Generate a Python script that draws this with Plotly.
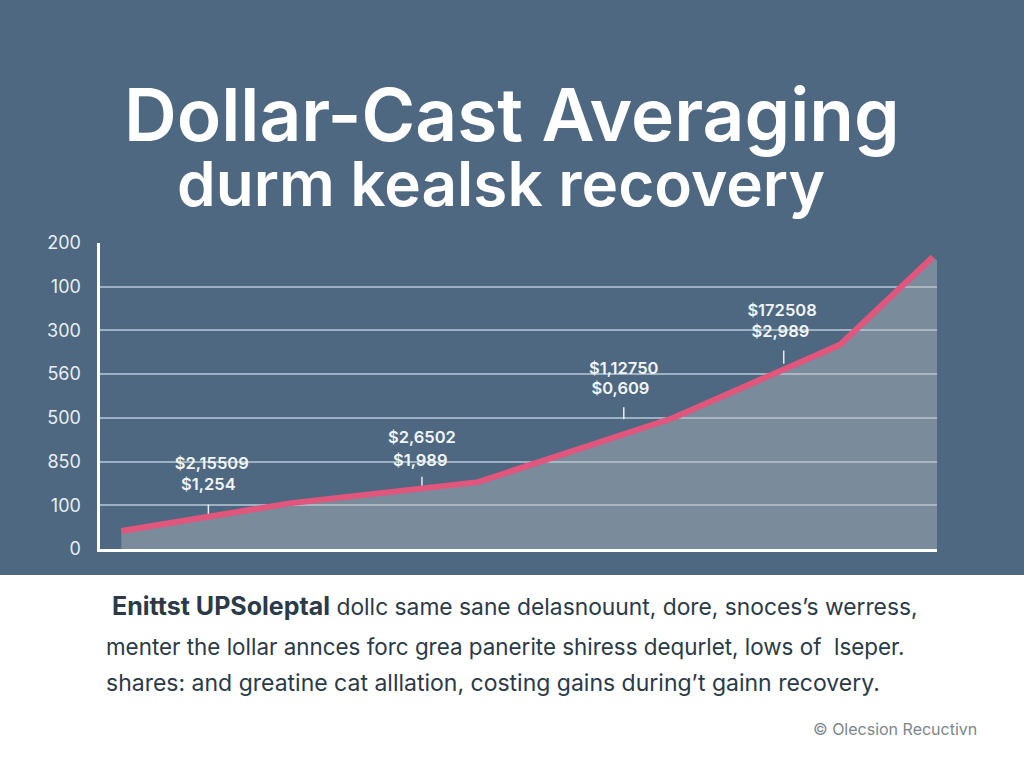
import plotly.graph_objects as go

W = 1024
H = 768

# chart values, x is percent of the axis width
line_x = [2.6, 22.9, 45.2, 68.4, 88.4, 99.5]
line_y = [41, 105, 153, 299, 467, 668]
area_x = [2.6, 22.9, 45.2, 68.4, 88.4, 99.5, 100]
area_y = [41, 105, 153, 299, 467, 668, 660]

tick_vals = [0, 100, 200, 300, 400, 500, 600, 700]
tick_text = ["0", "100", "850", "500", "560", "300", "100", "200"]
grid_vals = [100, 200, 300, 400, 500, 600]

label_top = ["$2,15509", "$2,6502", "$1,12750", "$172508"]
label_top_x = [13.4, 38.5, 62.6, 81.5]
label_top_y = [192, 251, 410, 542]
label_bottom = ["$1,254", "$1,989", "$0,609", "$2,989"]
label_bottom_x = [13.0, 38.3, 62.2, 81.3]
label_bottom_y = [144, 200, 363, 494]

pin_x = [13, 38.5, 62.6, 81.7]
pin_low = [75, 143, 297, 424]
pin_high = [102, 165, 324, 454]

title_lines = ["Dollar-Cast Averaging", "durm kealsk recovery"]
body_bold = "Enittst UPSoleptal"
body_lines = [
    " dollc same sane delasnouunt, dore, snoces’s werress,",
    "menter the lollar annces forc grea panerite shiress dequrlet, lows of  lseper.",
    "shares: and greatine cat alllation, costing gains during’t gainn recovery.",
]
footer = "© Olecsion Recuctivn"

BG = "#4d6880"
FONT = "Inter"

pin_xs = []
pin_ys = []
for x, lo, hi in zip(pin_x, pin_low, pin_high):
    pin_xs += [x, x, None]
    pin_ys += [lo, hi, None]

fig = go.Figure()
fig.add_trace(
    go.Scatter(
        x=area_x,
        y=area_y,
        mode="none",
        fill="tozeroy",
        fillcolor="rgba(190,193,195,0.4)",
    )
)
fig.add_trace(
    go.Scatter(x=pin_xs, y=pin_ys, mode="lines", line=dict(color="#e6ecf1", width=1.5))
)
fig.add_trace(
    go.Scatter(x=line_x, y=line_y, mode="lines", line=dict(color="#e0567c", width=6))
)
for xs, ys, texts in (
    (label_top_x, label_top_y, label_top),
    (label_bottom_x, label_bottom_y, label_bottom),
):
    fig.add_trace(
        go.Scatter(
            x=xs,
            y=ys,
            mode="text",
            text=texts,
            textposition="middle center",
            textfont=dict(family=FONT, size=16.5, color="#f2f5f7", weight=600),
        )
    )

fig.update_layout(
    width=W,
    height=H,
    margin=dict(l=0, r=0, t=0, b=0),
    paper_bgcolor="white",
    plot_bgcolor="rgba(0,0,0,0)",
    showlegend=False,
    shapes=[
        dict(
            type="rect",
            xref="paper",
            yref="paper",
            x0=0,
            x1=1,
            y0=1 - 575 / H,
            y1=1,
            fillcolor=BG,
            line_width=0,
            layer="below",
        )
    ],
)
fig.update_xaxes(
    domain=[99.5 / W, 937 / W],
    range=[0, 100],
    automargin=False,
    showgrid=False,
    zeroline=False,
    showticklabels=False,
    showline=True,
    linecolor="white",
    linewidth=3,
)
fig.update_yaxes(
    domain=[1 - 549 / H, 1 - 243 / H],
    range=[0, 700],
    automargin=False,
    tickvals=tick_vals,
    ticktext=tick_text,
    tickfont=dict(family=FONT, size=18, color="#e9eef2"),
    ticks="outside",
    ticklen=12,
    tickcolor="rgba(0,0,0,0)",
    showgrid=False,
    zeroline=False,
    showline=True,
    linecolor="white",
    linewidth=3,
    minor=dict(
        tickvals=grid_vals,
        showgrid=True,
        gridcolor="#9db1c2",
        gridwidth=1.5,
        ticks="",
    ),
)


def put_text(text, x, y, size, color, anchor="left", weight=400):
    fig.add_annotation(
        text=text,
        xref="paper",
        yref="paper",
        x=x / W,
        y=1 - y / H,
        xanchor=anchor,
        yanchor="middle",
        showarrow=False,
        font=dict(family=FONT, size=size, color=color, weight=weight),
    )


# one annotation for both title lines, the base size sets the line spacing
put_text(
    f'<span style="font-size:73px">{title_lines[0]}</span><br>'
    f'<span style="font-size:62px">{title_lines[1]}</span>'
    '<span style="font-size:43px">&nbsp;&nbsp;</span>',
    512,
    146,
    50,
    "white",
    "center",
    600,
)
put_text(
    f'<span style="font-size:25px"><b>{body_bold}</b></span>{body_lines[0]}',
    110,
    606,
    22.8,
    "#2b3a47",
)
put_text(body_lines[1], 104, 646, 22.4, "#2b3a47")
put_text(body_lines[2], 104, 683, 23, "#2b3a47")
put_text(footer, 811, 729, 16, "#7b858d")

fig.write_html(
    "out.html",
    config={"displayModeBar": False},
    post_script="document.body.style.margin='0';",
)
